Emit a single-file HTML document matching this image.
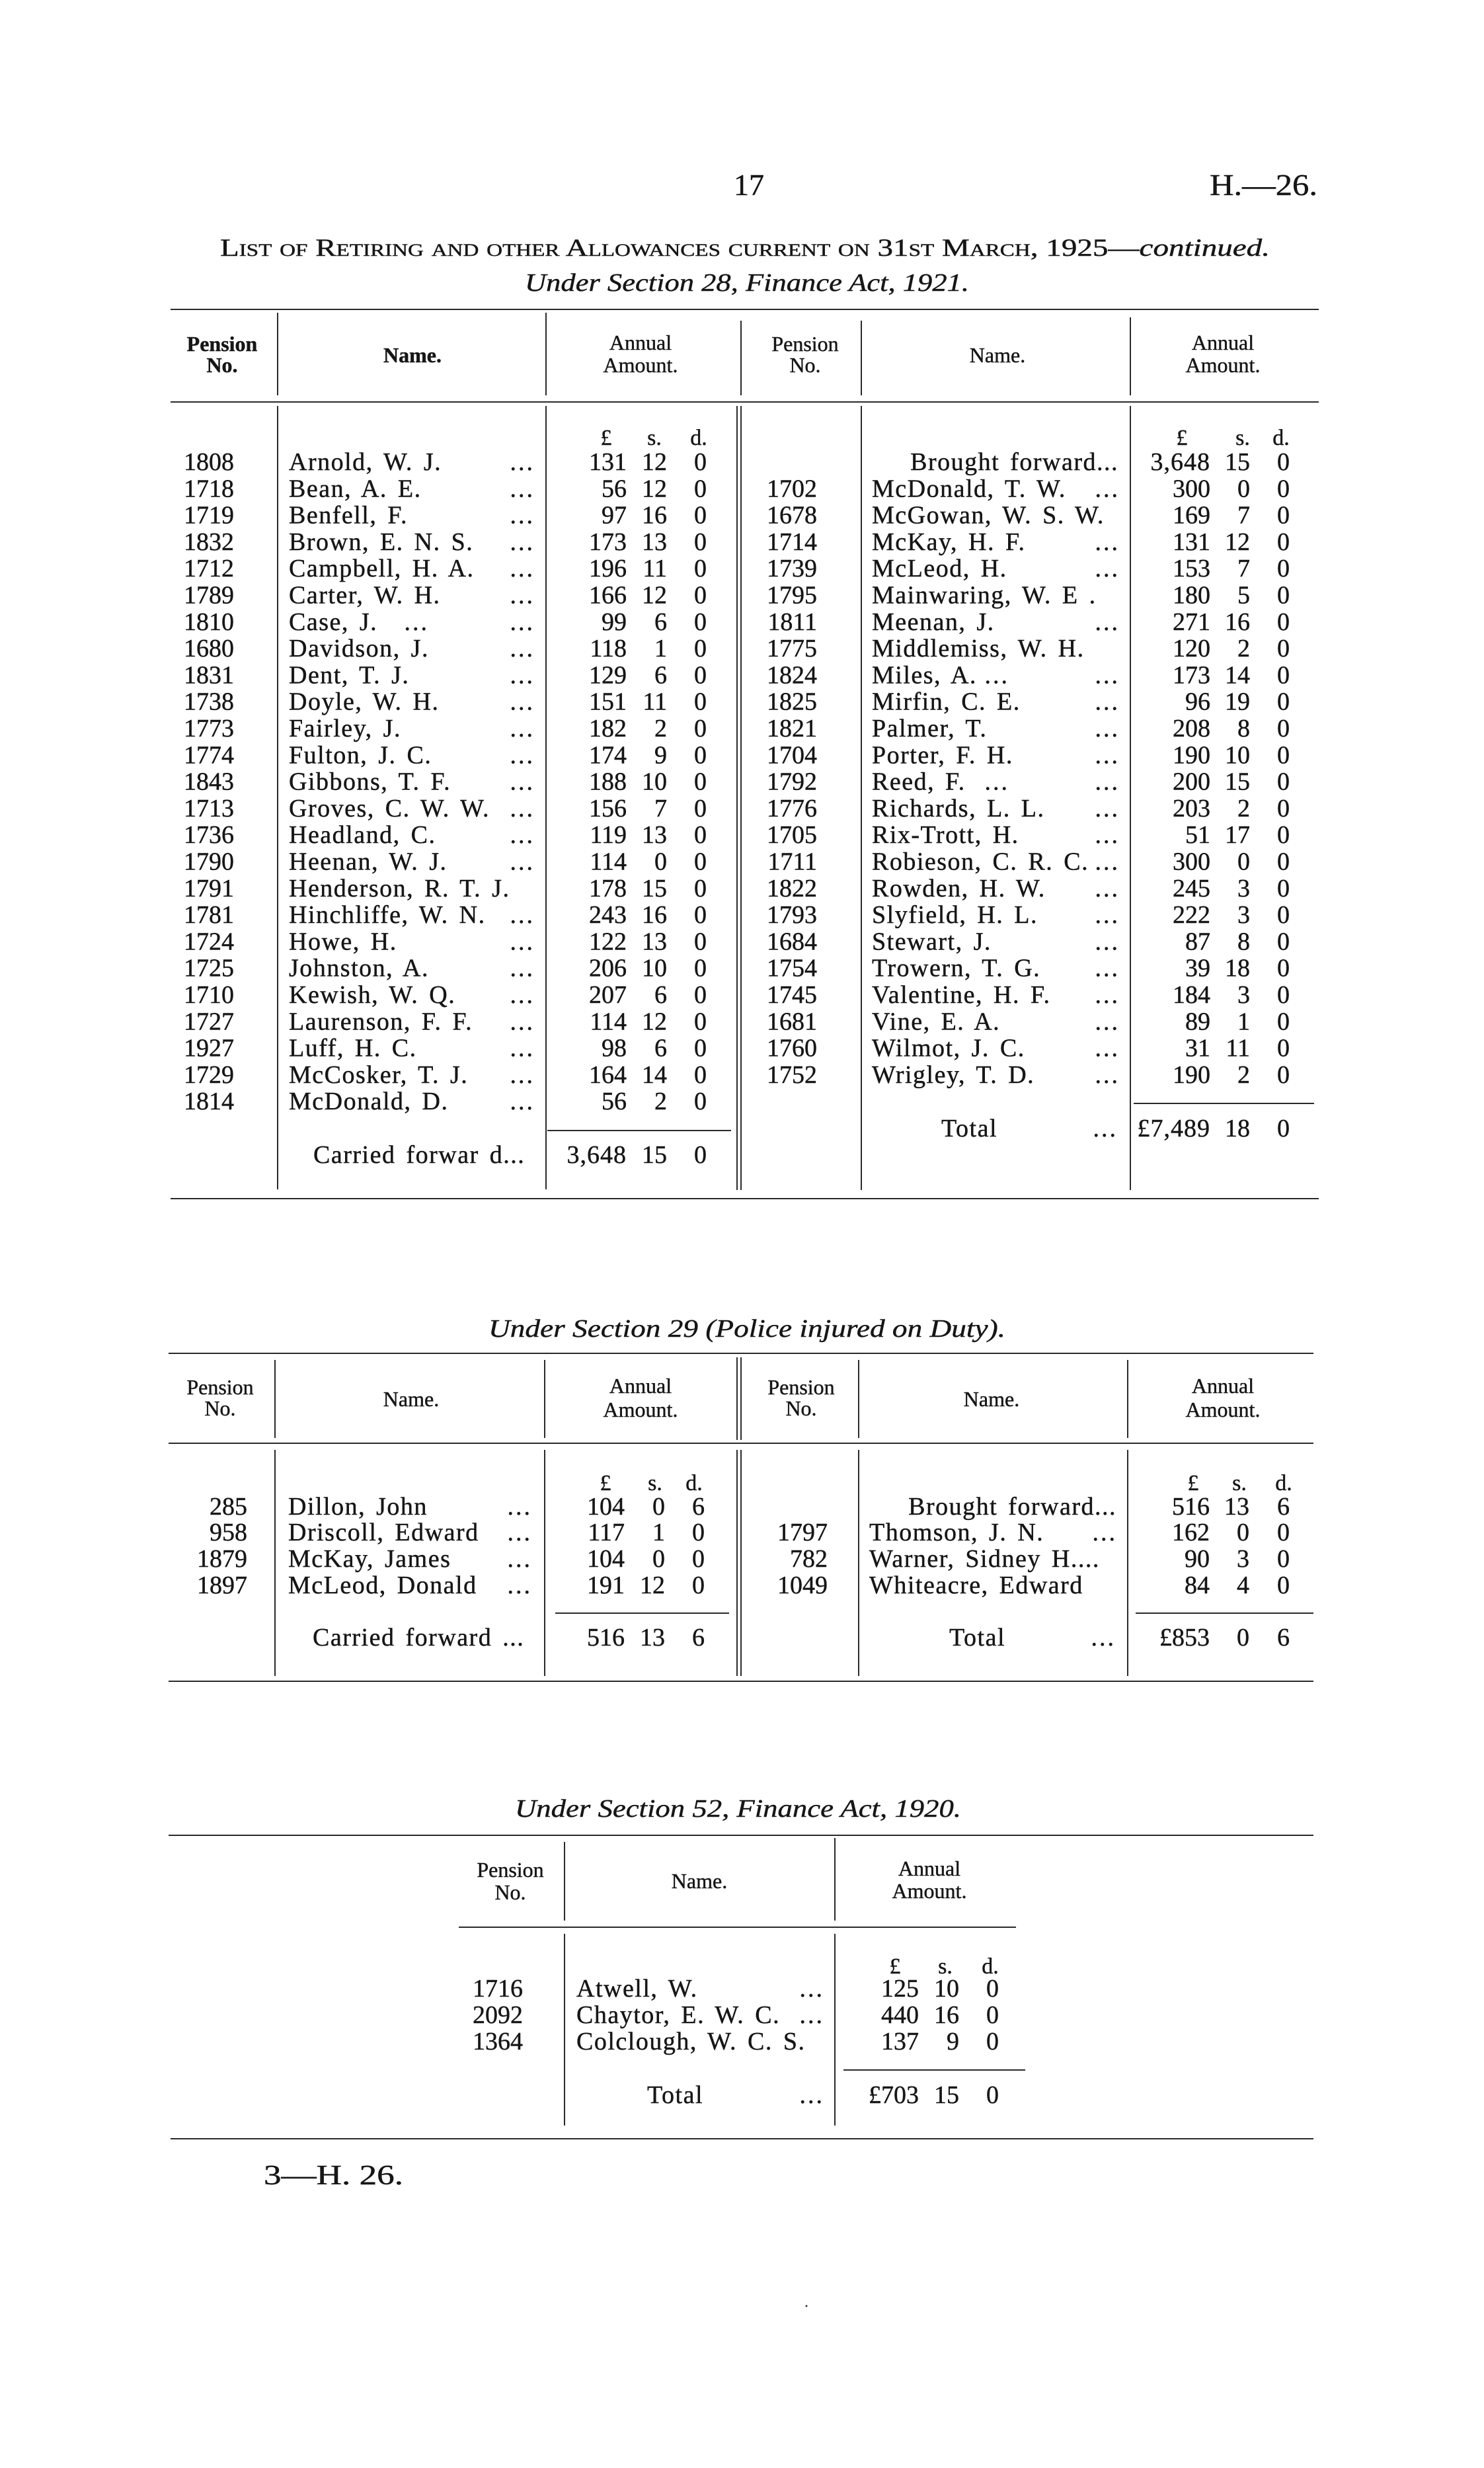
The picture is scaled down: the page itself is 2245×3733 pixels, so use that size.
<!DOCTYPE html>
<html><head><meta charset="utf-8">
<style>
html,body{margin:0;padding:0;background:#fff;}
svg{display:block;}
text{font-family:"Liberation Serif","DejaVu Serif",serif;fill:#161616;stroke:#161616;stroke-width:0.45px;}
.b{font-size:38px;}
.n{font-size:38px;letter-spacing:1.5px;word-spacing:5px;}
.dt{font-size:38px;letter-spacing:3px;text-anchor:end;}
.h{font-size:32px;text-anchor:middle;}
.hb{font-size:32px;font-weight:bold;text-anchor:middle;}
.s{font-size:34px;text-anchor:middle;}
.r{text-anchor:end;}
.it{font-style:italic;}
line{stroke:#2a2a2a;stroke-width:2;}
</style></head>
<body>
<svg width="2245" height="3733" viewBox="0 0 2245 3733" xmlns="http://www.w3.org/2000/svg">
<rect width="2245" height="3733" fill="#fff"/>

<!-- Page header -->
<text x="1133" y="295" style="font-size:46px;text-anchor:middle">17</text>
<text x="1830" y="295" style="font-size:46px" textLength="163" lengthAdjust="spacingAndGlyphs">H.—26.</text>

<text x="333" y="387" style="font-size:37px;font-variant:small-caps" textLength="1588" lengthAdjust="spacingAndGlyphs">List of Retiring and other Allowances current on 31st March, 1925—<tspan style="font-style:italic;font-variant:normal">continued.</tspan></text>
<text x="794" y="440" class="it" style="font-size:38px" textLength="672" lengthAdjust="spacingAndGlyphs">Under Section 28, Finance Act, 1921.</text>

<!-- ============ TABLE 1 ============ -->
<line x1="258" y1="468" x2="1995" y2="468"/>
<line x1="258" y1="608" x2="1995" y2="608"/>
<line x1="258" y1="1813" x2="1995" y2="1813"/>
<line x1="828" y1="1710" x2="1106" y2="1710"/>
<line x1="1715" y1="1669" x2="1988" y2="1669"/>
<!-- header verticals -->
<line x1="420" y1="473" x2="420" y2="598"/>
<line x1="826" y1="473" x2="826" y2="598"/>
<line x1="1121" y1="485" x2="1121" y2="598"/>
<line x1="1303" y1="485" x2="1303" y2="598"/>
<line x1="1710" y1="480" x2="1710" y2="598"/>
<!-- body verticals -->
<line x1="420" y1="614" x2="420" y2="1799"/>
<line x1="826" y1="614" x2="826" y2="1799"/>
<line x1="1115" y1="614" x2="1115" y2="1800"/>
<line x1="1121" y1="614" x2="1121" y2="1800"/>
<line x1="1303" y1="614" x2="1303" y2="1800"/>
<line x1="1710" y1="614" x2="1710" y2="1800"/>

<!-- header text -->
<text class="hb"><tspan x="336" y="531">Pension</tspan><tspan x="336" y="563">No.</tspan></text>
<text class="hb" x="624" y="548">Name.</text>
<text class="h"><tspan x="969" y="529">Annual</tspan><tspan x="969" y="563">Amount.</tspan></text>
<text class="h"><tspan x="1218" y="531">Pension</tspan><tspan x="1218" y="563">No.</tspan></text>
<text class="h" x="1509" y="548">Name.</text>
<text class="h"><tspan x="1850" y="529">Annual</tspan><tspan x="1850" y="563">Amount.</tspan></text>

<!-- £ s. d. -->
<text class="s"><tspan x="917" y="673">£</tspan><tspan x="990" y="673">s.</tspan><tspan x="1057" y="673">d.</tspan></text>
<text class="s"><tspan x="1788" y="673">£</tspan><tspan x="1880" y="673">s.</tspan><tspan x="1938" y="673">d.</tspan></text>

<!-- left pension nos -->
<text class="b r">
<tspan x="354" y="711">1808</tspan><tspan x="354" y="751.3">1718</tspan><tspan x="354" y="791.6">1719</tspan><tspan x="354" y="831.9">1832</tspan><tspan x="354" y="872.2">1712</tspan><tspan x="354" y="912.5">1789</tspan><tspan x="354" y="952.8">1810</tspan><tspan x="354" y="993.1">1680</tspan><tspan x="354" y="1033.4">1831</tspan><tspan x="354" y="1073.7">1738</tspan><tspan x="354" y="1114">1773</tspan><tspan x="354" y="1154.3">1774</tspan><tspan x="354" y="1194.6">1843</tspan><tspan x="354" y="1234.9">1713</tspan><tspan x="354" y="1275.2">1736</tspan><tspan x="354" y="1315.5">1790</tspan><tspan x="354" y="1355.8">1791</tspan><tspan x="354" y="1396.1">1781</tspan><tspan x="354" y="1436.4">1724</tspan><tspan x="354" y="1476.7">1725</tspan><tspan x="354" y="1517">1710</tspan><tspan x="354" y="1557.3">1727</tspan><tspan x="354" y="1597.6">1927</tspan><tspan x="354" y="1637.9">1729</tspan><tspan x="354" y="1678.2">1814</tspan>
</text>
<!-- left names -->
<text class="n">
<tspan x="437" y="711">Arnold, W. J.</tspan><tspan x="437" y="751.3">Bean, A. E.</tspan><tspan x="437" y="791.6">Benfell, F.</tspan><tspan x="437" y="831.9">Brown, E. N. S.</tspan><tspan x="437" y="872.2">Campbell, H. A.</tspan><tspan x="437" y="912.5">Carter, W. H.</tspan><tspan x="437" y="952.8">Case, J.</tspan><tspan x="437" y="993.1">Davidson, J.</tspan><tspan x="437" y="1033.4">Dent, T. J.</tspan><tspan x="437" y="1073.7">Doyle, W. H.</tspan><tspan x="437" y="1114">Fairley, J.</tspan><tspan x="437" y="1154.3">Fulton, J. C.</tspan><tspan x="437" y="1194.6">Gibbons, T. F.</tspan><tspan x="437" y="1234.9">Groves, C. W. W.</tspan><tspan x="437" y="1275.2">Headland, C.</tspan><tspan x="437" y="1315.5">Heenan, W. J.</tspan><tspan x="437" y="1355.8">Henderson, R. T. J.</tspan><tspan x="437" y="1396.1">Hinchliffe, W. N.</tspan><tspan x="437" y="1436.4">Howe, H.</tspan><tspan x="437" y="1476.7">Johnston, A.</tspan><tspan x="437" y="1517">Kewish, W. Q.</tspan><tspan x="437" y="1557.3">Laurenson, F. F.</tspan><tspan x="437" y="1597.6">Luff, H. C.</tspan><tspan x="437" y="1637.9">McCosker, T. J.</tspan><tspan x="437" y="1678.2">McDonald, D.</tspan>
</text>
<text class="dt">
<tspan x="809" y="711">...</tspan><tspan x="809" y="751.3">...</tspan><tspan x="809" y="791.6">...</tspan><tspan x="809" y="831.9">...</tspan><tspan x="809" y="872.2">...</tspan><tspan x="809" y="912.5">...</tspan><tspan x="649" y="952.8">...</tspan><tspan x="809" y="952.8">...</tspan><tspan x="809" y="993.1">...</tspan><tspan x="809" y="1033.4">...</tspan><tspan x="809" y="1073.7">...</tspan><tspan x="809" y="1114">...</tspan><tspan x="809" y="1154.3">...</tspan><tspan x="809" y="1194.6">...</tspan><tspan x="809" y="1234.9">...</tspan><tspan x="809" y="1275.2">...</tspan><tspan x="809" y="1315.5">...</tspan><tspan x="809" y="1396.1">...</tspan><tspan x="809" y="1436.4">...</tspan><tspan x="809" y="1476.7">...</tspan><tspan x="809" y="1517">...</tspan><tspan x="809" y="1557.3">...</tspan><tspan x="809" y="1597.6">...</tspan><tspan x="809" y="1637.9">...</tspan><tspan x="809" y="1678.2">...</tspan>
</text>
<!-- left £ -->
<text class="b r">
<tspan x="948" y="711">131</tspan><tspan x="948" y="751.3">56</tspan><tspan x="948" y="791.6">97</tspan><tspan x="948" y="831.9">173</tspan><tspan x="948" y="872.2">196</tspan><tspan x="948" y="912.5">166</tspan><tspan x="948" y="952.8">99</tspan><tspan x="948" y="993.1">118</tspan><tspan x="948" y="1033.4">129</tspan><tspan x="948" y="1073.7">151</tspan><tspan x="948" y="1114">182</tspan><tspan x="948" y="1154.3">174</tspan><tspan x="948" y="1194.6">188</tspan><tspan x="948" y="1234.9">156</tspan><tspan x="948" y="1275.2">119</tspan><tspan x="948" y="1315.5">114</tspan><tspan x="948" y="1355.8">178</tspan><tspan x="948" y="1396.1">243</tspan><tspan x="948" y="1436.4">122</tspan><tspan x="948" y="1476.7">206</tspan><tspan x="948" y="1517">207</tspan><tspan x="948" y="1557.3">114</tspan><tspan x="948" y="1597.6">98</tspan><tspan x="948" y="1637.9">164</tspan><tspan x="948" y="1678.2">56</tspan>
</text>
<!-- left s -->
<text class="b r">
<tspan x="1009" y="711">12</tspan><tspan x="1009" y="751.3">12</tspan><tspan x="1009" y="791.6">16</tspan><tspan x="1009" y="831.9">13</tspan><tspan x="1009" y="872.2">11</tspan><tspan x="1009" y="912.5">12</tspan><tspan x="1009" y="952.8">6</tspan><tspan x="1009" y="993.1">1</tspan><tspan x="1009" y="1033.4">6</tspan><tspan x="1009" y="1073.7">11</tspan><tspan x="1009" y="1114">2</tspan><tspan x="1009" y="1154.3">9</tspan><tspan x="1009" y="1194.6">10</tspan><tspan x="1009" y="1234.9">7</tspan><tspan x="1009" y="1275.2">13</tspan><tspan x="1009" y="1315.5">0</tspan><tspan x="1009" y="1355.8">15</tspan><tspan x="1009" y="1396.1">16</tspan><tspan x="1009" y="1436.4">13</tspan><tspan x="1009" y="1476.7">10</tspan><tspan x="1009" y="1517">6</tspan><tspan x="1009" y="1557.3">12</tspan><tspan x="1009" y="1597.6">6</tspan><tspan x="1009" y="1637.9">14</tspan><tspan x="1009" y="1678.2">2</tspan>
</text>
<!-- left d -->
<text class="b r">
<tspan x="1069" y="711">0</tspan><tspan x="1069" y="751.3">0</tspan><tspan x="1069" y="791.6">0</tspan><tspan x="1069" y="831.9">0</tspan><tspan x="1069" y="872.2">0</tspan><tspan x="1069" y="912.5">0</tspan><tspan x="1069" y="952.8">0</tspan><tspan x="1069" y="993.1">0</tspan><tspan x="1069" y="1033.4">0</tspan><tspan x="1069" y="1073.7">0</tspan><tspan x="1069" y="1114">0</tspan><tspan x="1069" y="1154.3">0</tspan><tspan x="1069" y="1194.6">0</tspan><tspan x="1069" y="1234.9">0</tspan><tspan x="1069" y="1275.2">0</tspan><tspan x="1069" y="1315.5">0</tspan><tspan x="1069" y="1355.8">0</tspan><tspan x="1069" y="1396.1">0</tspan><tspan x="1069" y="1436.4">0</tspan><tspan x="1069" y="1476.7">0</tspan><tspan x="1069" y="1517">0</tspan><tspan x="1069" y="1557.3">0</tspan><tspan x="1069" y="1597.6">0</tspan><tspan x="1069" y="1637.9">0</tspan><tspan x="1069" y="1678.2">0</tspan>
</text>
<!-- carried forward -->
<text class="n" x="474" y="1759">Carried forwar d...</text>
<text class="b r" x="948" y="1759" style="letter-spacing:1px">3,648</text>
<text class="b r" x="1009" y="1759">15</text>
<text class="b r" x="1069" y="1759">0</text>

<!-- right pension nos -->
<text class="b r">
<tspan x="1236" y="751.3">1702</tspan><tspan x="1236" y="791.6">1678</tspan><tspan x="1236" y="831.9">1714</tspan><tspan x="1236" y="872.2">1739</tspan><tspan x="1236" y="912.5">1795</tspan><tspan x="1236" y="952.8">1811</tspan><tspan x="1236" y="993.1">1775</tspan><tspan x="1236" y="1033.4">1824</tspan><tspan x="1236" y="1073.7">1825</tspan><tspan x="1236" y="1114">1821</tspan><tspan x="1236" y="1154.3">1704</tspan><tspan x="1236" y="1194.6">1792</tspan><tspan x="1236" y="1234.9">1776</tspan><tspan x="1236" y="1275.2">1705</tspan><tspan x="1236" y="1315.5">1711</tspan><tspan x="1236" y="1355.8">1822</tspan><tspan x="1236" y="1396.1">1793</tspan><tspan x="1236" y="1436.4">1684</tspan><tspan x="1236" y="1476.7">1754</tspan><tspan x="1236" y="1517">1745</tspan><tspan x="1236" y="1557.3">1681</tspan><tspan x="1236" y="1597.6">1760</tspan><tspan x="1236" y="1637.9">1752</tspan>
</text>
<!-- right names -->
<text class="n r" x="1692" y="711">Brought forward...</text>
<text class="n">
<tspan x="1319" y="751.3">McDonald, T. W.</tspan><tspan x="1319" y="791.6">McGowan, W. S. W.</tspan><tspan x="1319" y="831.9">McKay, H. F.</tspan><tspan x="1319" y="872.2">McLeod, H.</tspan><tspan x="1319" y="912.5">Mainwaring, W. E .</tspan><tspan x="1319" y="952.8">Meenan, J.</tspan><tspan x="1319" y="993.1">Middlemiss, W. H.</tspan><tspan x="1319" y="1033.4">Miles, A.</tspan><tspan x="1319" y="1073.7">Mirfin, C. E.</tspan><tspan x="1319" y="1114">Palmer, T.</tspan><tspan x="1319" y="1154.3">Porter, F. H.</tspan><tspan x="1319" y="1194.6">Reed, F.</tspan><tspan x="1319" y="1234.9">Richards, L. L.</tspan><tspan x="1319" y="1275.2">Rix-Trott, H.</tspan><tspan x="1319" y="1315.5">Robieson, C. R. C.</tspan><tspan x="1319" y="1355.8">Rowden, H. W.</tspan><tspan x="1319" y="1396.1">Slyfield, H. L.</tspan><tspan x="1319" y="1436.4">Stewart, J.</tspan><tspan x="1319" y="1476.7">Trowern, T. G.</tspan><tspan x="1319" y="1517">Valentine, H. F.</tspan><tspan x="1319" y="1557.3">Vine, E. A.</tspan><tspan x="1319" y="1597.6">Wilmot, J. C.</tspan><tspan x="1319" y="1637.9">Wrigley, T. D.</tspan>
</text>
<text class="dt">
<tspan x="1694" y="751.3">...</tspan><tspan x="1694" y="831.9">...</tspan><tspan x="1694" y="872.2">...</tspan><tspan x="1694" y="952.8">...</tspan><tspan x="1527" y="1033.4">...</tspan><tspan x="1694" y="1033.4">...</tspan><tspan x="1694" y="1073.7">...</tspan><tspan x="1694" y="1114">...</tspan><tspan x="1694" y="1154.3">...</tspan><tspan x="1527" y="1194.6">...</tspan><tspan x="1694" y="1194.6">...</tspan><tspan x="1694" y="1234.9">...</tspan><tspan x="1694" y="1275.2">...</tspan><tspan x="1694" y="1315.5">...</tspan><tspan x="1694" y="1355.8">...</tspan><tspan x="1694" y="1396.1">...</tspan><tspan x="1694" y="1436.4">...</tspan><tspan x="1694" y="1476.7">...</tspan><tspan x="1694" y="1517">...</tspan><tspan x="1694" y="1557.3">...</tspan><tspan x="1694" y="1597.6">...</tspan><tspan x="1694" y="1637.9">...</tspan>
</text>
<!-- right £ -->
<text class="b r">
<tspan x="1831" y="711" style="letter-spacing:1px">3,648</tspan><tspan x="1831" y="751.3">300</tspan><tspan x="1831" y="791.6">169</tspan><tspan x="1831" y="831.9">131</tspan><tspan x="1831" y="872.2">153</tspan><tspan x="1831" y="912.5">180</tspan><tspan x="1831" y="952.8">271</tspan><tspan x="1831" y="993.1">120</tspan><tspan x="1831" y="1033.4">173</tspan><tspan x="1831" y="1073.7">96</tspan><tspan x="1831" y="1114">208</tspan><tspan x="1831" y="1154.3">190</tspan><tspan x="1831" y="1194.6">200</tspan><tspan x="1831" y="1234.9">203</tspan><tspan x="1831" y="1275.2">51</tspan><tspan x="1831" y="1315.5">300</tspan><tspan x="1831" y="1355.8">245</tspan><tspan x="1831" y="1396.1">222</tspan><tspan x="1831" y="1436.4">87</tspan><tspan x="1831" y="1476.7">39</tspan><tspan x="1831" y="1517">184</tspan><tspan x="1831" y="1557.3">89</tspan><tspan x="1831" y="1597.6">31</tspan><tspan x="1831" y="1637.9">190</tspan>
</text>
<!-- right s -->
<text class="b r">
<tspan x="1891" y="711">15</tspan><tspan x="1891" y="751.3">0</tspan><tspan x="1891" y="791.6">7</tspan><tspan x="1891" y="831.9">12</tspan><tspan x="1891" y="872.2">7</tspan><tspan x="1891" y="912.5">5</tspan><tspan x="1891" y="952.8">16</tspan><tspan x="1891" y="993.1">2</tspan><tspan x="1891" y="1033.4">14</tspan><tspan x="1891" y="1073.7">19</tspan><tspan x="1891" y="1114">8</tspan><tspan x="1891" y="1154.3">10</tspan><tspan x="1891" y="1194.6">15</tspan><tspan x="1891" y="1234.9">2</tspan><tspan x="1891" y="1275.2">17</tspan><tspan x="1891" y="1315.5">0</tspan><tspan x="1891" y="1355.8">3</tspan><tspan x="1891" y="1396.1">3</tspan><tspan x="1891" y="1436.4">8</tspan><tspan x="1891" y="1476.7">18</tspan><tspan x="1891" y="1517">3</tspan><tspan x="1891" y="1557.3">1</tspan><tspan x="1891" y="1597.6">11</tspan><tspan x="1891" y="1637.9">2</tspan>
</text>
<!-- right d -->
<text class="b r">
<tspan x="1951" y="711">0</tspan><tspan x="1951" y="751.3">0</tspan><tspan x="1951" y="791.6">0</tspan><tspan x="1951" y="831.9">0</tspan><tspan x="1951" y="872.2">0</tspan><tspan x="1951" y="912.5">0</tspan><tspan x="1951" y="952.8">0</tspan><tspan x="1951" y="993.1">0</tspan><tspan x="1951" y="1033.4">0</tspan><tspan x="1951" y="1073.7">0</tspan><tspan x="1951" y="1114">0</tspan><tspan x="1951" y="1154.3">0</tspan><tspan x="1951" y="1194.6">0</tspan><tspan x="1951" y="1234.9">0</tspan><tspan x="1951" y="1275.2">0</tspan><tspan x="1951" y="1315.5">0</tspan><tspan x="1951" y="1355.8">0</tspan><tspan x="1951" y="1396.1">0</tspan><tspan x="1951" y="1436.4">0</tspan><tspan x="1951" y="1476.7">0</tspan><tspan x="1951" y="1517">0</tspan><tspan x="1951" y="1557.3">0</tspan><tspan x="1951" y="1597.6">0</tspan><tspan x="1951" y="1637.9">0</tspan>
</text>
<!-- total -->
<text class="n" x="1424" y="1719">Total</text>
<text class="dt" x="1691" y="1719">...</text>
<text class="b r" x="1831" y="1719" style="letter-spacing:1px">£7,489</text>
<text class="b r" x="1891" y="1719">18</text>
<text class="b r" x="1951" y="1719">0</text>

<!-- ============ TABLE 2 ============ -->
<text x="739" y="2022" class="it" style="font-size:38px" textLength="782" lengthAdjust="spacingAndGlyphs">Under Section 29 (Police injured on Duty).</text>
<line x1="255" y1="2047" x2="1987" y2="2047"/>
<line x1="255" y1="2183" x2="1987" y2="2183"/>
<line x1="255" y1="2543" x2="1987" y2="2543"/>
<line x1="840" y1="2440" x2="1103" y2="2440"/>
<line x1="1718" y1="2440" x2="1987" y2="2440"/>
<line x1="416" y1="2057" x2="416" y2="2175"/>
<line x1="824" y1="2057" x2="824" y2="2175"/>
<line x1="1115" y1="2053" x2="1115" y2="2178"/>
<line x1="1121" y1="2053" x2="1121" y2="2178"/>
<line x1="1299" y1="2057" x2="1299" y2="2175"/>
<line x1="1706" y1="2057" x2="1706" y2="2175"/>
<line x1="416" y1="2193" x2="416" y2="2535"/>
<line x1="824" y1="2193" x2="824" y2="2535"/>
<line x1="1115" y1="2193" x2="1115" y2="2535"/>
<line x1="1121" y1="2193" x2="1121" y2="2535"/>
<line x1="1299" y1="2193" x2="1299" y2="2535"/>
<line x1="1706" y1="2193" x2="1706" y2="2535"/>

<text class="h"><tspan x="333" y="2109">Pension</tspan><tspan x="333" y="2141">No.</tspan></text>
<text class="h" x="622" y="2127">Name.</text>
<text class="h"><tspan x="969" y="2107">Annual</tspan><tspan x="969" y="2143">Amount.</tspan></text>
<text class="h"><tspan x="1212" y="2109">Pension</tspan><tspan x="1212" y="2141">No.</tspan></text>
<text class="h" x="1500" y="2127">Name.</text>
<text class="h"><tspan x="1850" y="2107">Annual</tspan><tspan x="1850" y="2143">Amount.</tspan></text>

<text class="s"><tspan x="916" y="2254">£</tspan><tspan x="991" y="2254">s.</tspan><tspan x="1050" y="2254">d.</tspan></text>
<text class="s"><tspan x="1805" y="2254">£</tspan><tspan x="1875" y="2254">s.</tspan><tspan x="1942" y="2254">d.</tspan></text>

<text class="b r"><tspan x="374" y="2291">285</tspan><tspan x="374" y="2330">958</tspan><tspan x="374" y="2370">1879</tspan><tspan x="374" y="2410">1897</tspan></text>
<text class="n"><tspan x="436" y="2291">Dillon, John</tspan><tspan x="436" y="2330">Driscoll, Edward</tspan><tspan x="436" y="2370">McKay, James</tspan><tspan x="436" y="2410">McLeod, Donald</tspan></text>
<text class="dt"><tspan x="805" y="2291">...</tspan><tspan x="805" y="2330">...</tspan><tspan x="805" y="2370">...</tspan><tspan x="805" y="2410">...</tspan></text>
<text class="b r"><tspan x="945" y="2291">104</tspan><tspan x="945" y="2330">117</tspan><tspan x="945" y="2370">104</tspan><tspan x="945" y="2410">191</tspan></text>
<text class="b r"><tspan x="1006" y="2291">0</tspan><tspan x="1006" y="2330">1</tspan><tspan x="1006" y="2370">0</tspan><tspan x="1006" y="2410">12</tspan></text>
<text class="b r"><tspan x="1066" y="2291">6</tspan><tspan x="1066" y="2330">0</tspan><tspan x="1066" y="2370">0</tspan><tspan x="1066" y="2410">0</tspan></text>
<text class="n" x="473" y="2489">Carried forward ...</text>
<text class="b r" x="945" y="2489">516</text>
<text class="b r" x="1006" y="2489">13</text>
<text class="b r" x="1066" y="2489">6</text>

<text class="n r" x="1689" y="2291">Brought forward...</text>
<text class="b r"><tspan x="1252" y="2330">1797</tspan><tspan x="1252" y="2370">782</tspan><tspan x="1252" y="2410">1049</tspan></text>
<text class="n"><tspan x="1315" y="2330">Thomson, J. N.</tspan><tspan x="1315" y="2370">Warner, Sidney H....</tspan><tspan x="1315" y="2410">Whiteacre, Edward</tspan></text>
<text class="dt" x="1690" y="2330">...</text>
<text class="b r"><tspan x="1830" y="2291">516</tspan><tspan x="1830" y="2330">162</tspan><tspan x="1830" y="2370">90</tspan><tspan x="1830" y="2410">84</tspan></text>
<text class="b r"><tspan x="1890" y="2291">13</tspan><tspan x="1890" y="2330">0</tspan><tspan x="1890" y="2370">3</tspan><tspan x="1890" y="2410">4</tspan></text>
<text class="b r"><tspan x="1951" y="2291">6</tspan><tspan x="1951" y="2330">0</tspan><tspan x="1951" y="2370">0</tspan><tspan x="1951" y="2410">0</tspan></text>
<text class="n" x="1436" y="2489">Total</text>
<text class="dt" x="1688" y="2489">...</text>
<text class="b r" x="1830" y="2489">£853</text>
<text class="b r" x="1890" y="2489">0</text>
<text class="b r" x="1951" y="2489">6</text>

<!-- ============ TABLE 3 ============ -->
<text x="779" y="2748" class="it" style="font-size:38px" textLength="675" lengthAdjust="spacingAndGlyphs">Under Section 52, Finance Act, 1920.</text>
<line x1="255" y1="2776" x2="1987" y2="2776"/>
<line x1="694" y1="2915" x2="1537" y2="2915"/>
<line x1="258" y1="3235" x2="1987" y2="3235"/>
<line x1="1276" y1="3131" x2="1551" y2="3131"/>
<line x1="854" y1="2786" x2="854" y2="2905"/>
<line x1="1263" y1="2780" x2="1263" y2="2905"/>
<line x1="854" y1="2925" x2="854" y2="3215"/>
<line x1="1263" y1="2925" x2="1263" y2="3215"/>

<text class="h"><tspan x="772" y="2839">Pension</tspan><tspan x="772" y="2873">No.</tspan></text>
<text class="h" x="1058" y="2856">Name.</text>
<text class="h"><tspan x="1406" y="2837">Annual</tspan><tspan x="1406" y="2871">Amount.</tspan></text>

<text class="s"><tspan x="1354" y="2985">£</tspan><tspan x="1430" y="2985">s.</tspan><tspan x="1498" y="2985">d.</tspan></text>
<text class="b r"><tspan x="791" y="3020">1716</tspan><tspan x="791" y="3060">2092</tspan><tspan x="791" y="3100">1364</tspan></text>
<text class="n"><tspan x="872" y="3020">Atwell, W.</tspan><tspan x="872" y="3060">Chaytor, E. W. C.</tspan><tspan x="872" y="3100">Colclough, W. C. S.</tspan></text>
<text class="dt"><tspan x="1247" y="3020">...</tspan><tspan x="1247" y="3060">...</tspan></text>
<text class="b r"><tspan x="1390" y="3020">125</tspan><tspan x="1390" y="3060">440</tspan><tspan x="1390" y="3100">137</tspan></text>
<text class="b r"><tspan x="1451" y="3020">10</tspan><tspan x="1451" y="3060">16</tspan><tspan x="1451" y="3100">9</tspan></text>
<text class="b r"><tspan x="1511" y="3020">0</tspan><tspan x="1511" y="3060">0</tspan><tspan x="1511" y="3100">0</tspan></text>
<text class="n" x="979" y="3181">Total</text>
<text class="dt" x="1247" y="3181">...</text>
<text class="b r" x="1390" y="3181">£703</text>
<text class="b r" x="1451" y="3181">15</text>
<text class="b r" x="1511" y="3181">0</text>

<!-- footer -->
<text x="399" y="3304" style="font-size:42px" textLength="211" lengthAdjust="spacingAndGlyphs">3—H. 26.</text>
<circle cx="1220" cy="3488" r="1.5" fill="#333"/>
</svg>
</body></html>
